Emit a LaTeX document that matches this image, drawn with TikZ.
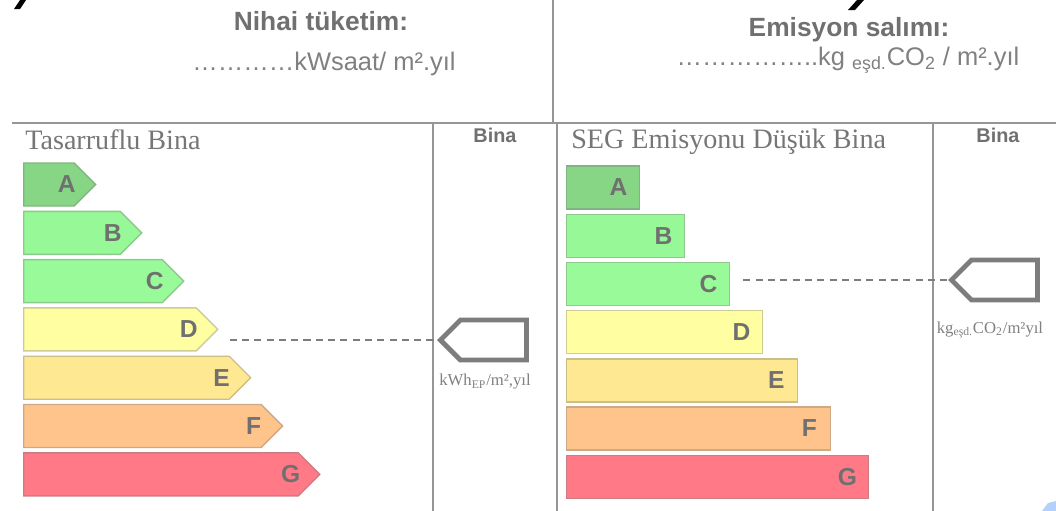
\documentclass[tikz,border=0pt]{standalone}
\usepackage{fontspec}
\setmainfont{Liberation Serif}
\setsansfont{Liberation Sans}
\usetikzlibrary{shapes.symbols,calc}
\definecolor{txtgray}{RGB}{112,112,112}
\definecolor{valgray}{RGB}{128,128,128}
\definecolor{titlegray}{RGB}{118,118,118}
\definecolor{linegray}{RGB}{150,150,150}
\definecolor{ptrgray}{RGB}{125,125,125}
\definecolor{clsA}{RGB}{134,214,134}
\definecolor{clsB}{RGB}{150,248,150}
\definecolor{clsC}{RGB}{152,250,152}
\definecolor{clsD}{RGB}{255,255,162}
\definecolor{clsE}{RGB}{255,232,146}
\definecolor{clsF}{RGB}{255,196,140}
\definecolor{clsG}{RGB}{255,122,134}
\begin{document}
\begin{tikzpicture}[x=0.02cm,y=-0.02cm,
	bar/.style={draw=#1!60!gray, fill=#1, line width=0.8pt, minimum height=43*0.02cm, inner sep=0pt, anchor=west},
	arrowbar/.style={bar=#1, signal, signal to=east},
	ratingletter/.style={font=\sffamily\bfseries\fontsize{14}{14}\selectfont, text=txtgray},
	pointer/.style={signal, signal to=west, draw=ptrgray, line width=2.8pt, minimum width=86*0.02cm, minimum height=40*0.02cm, inner sep=0pt, anchor=west},
	unitlabel/.style={font=\fontsize{9.5}{10}\selectfont, text=valgray},
	colhead/.style={font=\sffamily\bfseries\fontsize{11.3}{12}\selectfont, text=txtgray},
	paneltitle/.style={font=\fontsize{16}{17}\selectfont, text=titlegray, anchor=west, inner sep=0pt},
	headline/.style={font=\sffamily\bfseries\fontsize{15}{16}\selectfont, text=txtgray},
	valueline/.style={font=\sffamily\fontsize{14.5}{15}\selectfont, text=valgray},
	rule/.style={draw=linegray, line width=0.9pt}]
	\useasboundingbox (0,0) rectangle (1056,511);
	% frame
	\draw[rule] (553,0) -- (553,123);
	\draw[rule] (12,123) -- (1056,123);
	\draw[rule] (433,123) -- (433,511);
	\draw[rule] (557,123) -- (557,511);
	\draw[rule] (933,123) -- (933,511);
	% stray marks along the top edge
	\fill[black] (14,9) -- (20,9) -- (26,0) -- (20,0) -- cycle;
	\fill[black] (848,10) -- (855,10) -- (864,0) -- (857,0) -- cycle;
	% headings
	\node[headline] (hNihai) at (321,21) {Nihai tüketim:};
	\node[valueline] (vNihai) at (324,64) {…………kWsaat/ m².yıl};
	\node[headline] (hEmis) at (849,30) {Emisyon salımı:};
	\node[valueline] (vEmis) at (848,60) {……………..kg \textsubscript{eşd.}CO\textsubscript{2} / m².yıl};
	\node[paneltitle] (tLeft) at (25,140) {Tasarruflu Bina};
	\node[paneltitle] (tRight) at (571,142) {SEG Emisyonu Düşük Bina};
	\node[colhead] (bLeft) at (495,135) {Bina};
	\node[colhead] (bRight) at (998,135) {Bina};
	% energy classes
	\foreach \c/\w/\col [count=\i from 0] in {A/72/clsA,B/118/clsB,C/160/clsC,D/194/clsD,E/227/clsE,F/259/clsF,G/296/clsG}{
		\node[arrowbar=\col, minimum width=\w*0.02cm] (l\c) at (23,184.5+48.3*\i) {};
		\node[ratingletter] at ($(l\c.east)+(-30,0)$) {\c};
	}
	% emission classes
	\foreach \c/\w/\col [count=\i from 0] in {A/73/clsA,B/118/clsB,C/163/clsC,D/196/clsD,E/231/clsE,F/264/clsF,G/302/clsG}{
		\node[bar=\col, rectangle, minimum width=\w*0.02cm] (r\c) at (566,187.5+48.2*\i) {};
		\node[ratingletter] at ($(r\c.east)+(-22,0)$) {\c};
	}
	% building pointers
	\node[pointer] (ptrL) at (437,340) {};
	\node[unitlabel] (uL) at (485,382) {kWh\textsubscript{EP}/m²,yıl};
	\node[pointer] (ptrR) at (948,280) {};
	\node[unitlabel] (uR) at (990,330) {kg\textsubscript{eşd.}CO\textsubscript{2}/m²yıl};
	\draw[draw=ptrgray, line width=0.8pt, dash pattern=on 4pt off 3pt] ($(ptrL.west -| lD.east)+(11,0)$) -- (ptrL.west);
	\draw[draw=ptrgray, line width=0.8pt, dash pattern=on 4pt off 3pt] ($(ptrR.west -| rC.east)+(13,0)$) -- (ptrR.west);
	% corner smudge
	\fill[blue!60!cyan, opacity=0.3] (1042,511) -- (1048,503) -- (1056,501) -- (1056,511) -- cycle;
\end{tikzpicture}
\end{document}
